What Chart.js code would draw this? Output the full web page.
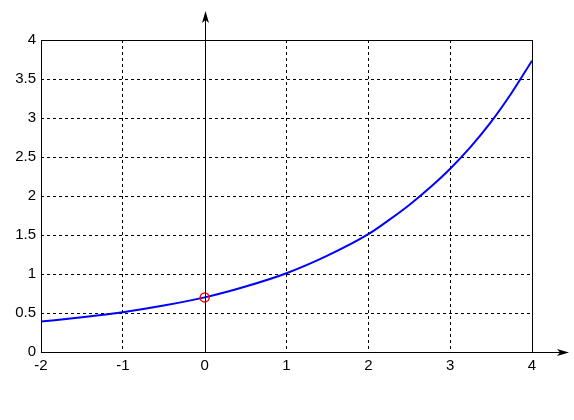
<!DOCTYPE html>
<html>
<head>
<meta charset="utf-8">
<script src="https://cdn.jsdelivr.net/npm/chart.js@4"></script>
<style>
  html, body { margin: 0; padding: 0; background: #fff; }
  #wrap { width: 574px; height: 420px; }
</style>
</head>
<body>
<div id="wrap"><canvas id="curveChart"></canvas></div>
<script>
// values
const xValues = [-2, -1.5, -1, -0.5, 0, 0.5, 1, 1.5, 2, 2.25, 2.5, 2.75, 3, 3.25, 3.5, 3.75, 4];
const yValues = [0.39, 0.445, 0.51, 0.595, 0.70, 0.84, 1.01, 1.235, 1.51, 1.69, 1.885, 2.105, 2.35, 2.63, 2.95, 3.32, 3.735];
const markerX = [0];
const markerY = [0.7];
const xTicks = [-2, -1, 0, 1, 2, 3, 4];
const yTicks = [0, 0.5, 1, 1.5, 2, 2.5, 3, 3.5, 4];

// box around the plot + the two arrowed axes
const axesPlugin = {
    id: 'axesArrows',
    afterDatasetsDraw(chart) {
        const ctx = chart.ctx;
        const a = chart.chartArea;
        const x0 = Math.round(chart.scales.x.getPixelForValue(0)) + 0.5;
        const y0 = Math.round(chart.scales.y.getPixelForValue(0)) + 0.5;
        ctx.save();
        ctx.strokeStyle = '#000';
        ctx.fillStyle = '#000';
        ctx.lineWidth = 1;
        ctx.setLineDash([]);
        ctx.strokeRect(Math.round(a.left) + 0.5, Math.round(a.top) + 0.5,
            Math.round(a.right - a.left), Math.round(a.bottom - a.top));

        // y axis through x = 0
        ctx.beginPath();
        ctx.moveTo(x0, a.bottom);
        ctx.lineTo(x0, 14);
        ctx.stroke();
        ctx.beginPath();
        ctx.moveTo(x0, 11);
        ctx.lineTo(x0 - 3.5, 23);
        ctx.lineTo(x0, 20);
        ctx.lineTo(x0 + 3.5, 23);
        ctx.closePath();
        ctx.fill();

        // x axis extension past the box
        ctx.beginPath();
        ctx.moveTo(a.right, y0);
        ctx.lineTo(565, y0);
        ctx.stroke();
        ctx.beginPath();
        ctx.moveTo(569, y0);
        ctx.lineTo(557, y0 - 3.5);
        ctx.lineTo(560, y0);
        ctx.lineTo(557, y0 + 3.5);
        ctx.closePath();
        ctx.fill();
        ctx.restore();
    }
};

// no dashed grid line under the solid x = 0 axis
const gridColor = c => (c.tick && c.tick.value === 0 ? 'rgba(0,0,0,0)' : '#000');

const ctx = document.getElementById('curveChart').getContext('2d');
new Chart(ctx, {
    type: 'line',
    data: {
        datasets: [{
            label: 'marker',
            data: markerX.map((x, i) => ({ x: x, y: markerY[i] })),
            showLine: false,
            pointStyle: 'circle',
            pointRadius: 4.5,
            pointBorderWidth: 1.5,
            pointBorderColor: '#ff0000',
            pointBackgroundColor: 'rgba(0,0,0,0)',
            order: 0
        }, {
            label: 'curve',
            data: xValues.map((x, i) => ({ x: x, y: yValues[i] })),
            borderColor: '#0000ff',
            borderWidth: 2,
            pointRadius: 0,
            fill: false,
            cubicInterpolationMode: 'monotone',
            order: 1
        }]
    },
    options: {
        responsive: true,
        maintainAspectRatio: false,
        animation: false,
        layout: { padding: { left: 0, top: 40, right: 42, bottom: 0 } },
        plugins: {
            legend: { display: false },
            tooltip: { enabled: false }
        },
        scales: {
            x: {
                type: 'linear',
                min: -2,
                max: 4,
                afterBuildTicks: s => { s.ticks = xTicks.map(v => ({ value: v })); },
                afterFit: s => { s.height = 68; },
                grid: { color: gridColor, lineWidth: 1, drawTicks: false },
                border: { display: false, dash: [3, 3] },
                ticks: {
                    color: '#000',
                    padding: 5,
                    maxRotation: 0,
                    callback: v => String(v),
                    font: { family: 'Liberation Sans', size: 15 }
                }
            },
            y: {
                type: 'linear',
                min: 0,
                max: 4,
                afterBuildTicks: s => { s.ticks = yTicks.map(v => ({ value: v })); },
                afterFit: s => { s.width = 41; },
                grid: { color: '#000', lineWidth: 1, drawTicks: false },
                border: { display: false, dash: [3, 3] },
                ticks: {
                    color: '#000',
                    padding: 5,
                    callback: v => String(v),
                    font: { family: 'Liberation Sans', size: 15 }
                }
            }
        }
    },
    plugins: [axesPlugin]
});
</script>
</body>
</html>
